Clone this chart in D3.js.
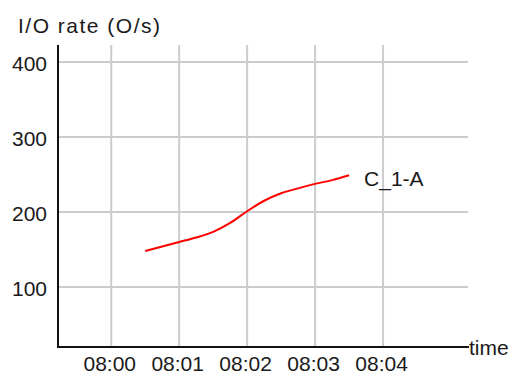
<!DOCTYPE html>
<html>
<head>
<meta charset="utf-8">
<script src="https://cdn.jsdelivr.net/npm/d3@7"></script>
<style>
  html, body { margin: 0; padding: 0; background: #fff; }
  svg { display: block; }
  text { font-family: "Liberation Sans", Arial, sans-serif; fill: #1a1a1a; }
</style>
</head>
<body>
<svg id="chart" width="515" height="375"></svg>
<script>
// ---- data ----
const times = ["08:00:30","08:00:45","08:01:00","08:01:15","08:01:30","08:01:45","08:02:00",
               "08:02:15","08:02:30","08:02:45","08:03:00","08:03:15","08:03:30"];
const ioRate = [148, 154, 160, 166, 173.5, 185.5, 201, 215, 225, 231.5, 237.5, 242.5, 249];
const seriesName = "C_1-A";
const yTicks = [100, 200, 300, 400];
const xTickLabels = ["08:00","08:01","08:02","08:03","08:04"];
const yTitle = "I/O rate  (O/s)";
const xTitle = "time";

// ---- layout ----
const parse = d3.timeParse("%H:%M:%S");
const parseHM = d3.timeParse("%H:%M");
const mLeft = 58, mRight = 468, mTop = 45, mBottom = 347;

const x = d3.scaleTime()
  .domain([parse("07:59:13"), parse("08:05:15")])
  .range([mLeft, mRight]);
const y = d3.scaleLinear()
  .domain([20, 420])
  .range([mBottom, mTop + 2]);

const svg = d3.select("#chart");

// grid
const grid = svg.append("g").attr("stroke", "#cccccc").attr("stroke-width", 2);
grid.selectAll("line.v").data(xTickLabels).enter().append("line")
  .attr("x1", d => x(parseHM(d))).attr("x2", d => x(parseHM(d)))
  .attr("y1", mTop).attr("y2", mBottom);
grid.selectAll("line.h").data(yTicks).enter().append("line")
  .attr("x1", mLeft).attr("x2", mRight)
  .attr("y1", d => y(d)).attr("y2", d => y(d));

// axes
const yAxis = svg.append("g")
  .attr("transform", `translate(${mLeft},0)`)
  .call(d3.axisLeft(y).tickValues(yTicks).tickSize(0).tickPadding(11));
yAxis.select(".domain").remove();
yAxis.selectAll("text")
  .attr("font-size", 21).attr("dy", "0.4em")
  .style("font-family", "'Liberation Sans', Arial, sans-serif").attr("fill", "#1a1a1a");

const xAxis = svg.append("g")
  .attr("transform", `translate(0,${mBottom})`)
  .call(d3.axisBottom(x).tickValues(xTickLabels.map(parseHM))
    .tickFormat(d3.timeFormat("%H:%M")).tickSize(0).tickPadding(9));
xAxis.select(".domain").remove();
xAxis.selectAll("text")
  .attr("font-size", 21).attr("dx", -2).attr("dy", "0.71em")
  .style("font-family", "'Liberation Sans', Arial, sans-serif").attr("fill", "#1a1a1a");

// axis lines
svg.append("line").attr("x1", mLeft).attr("x2", mLeft).attr("y1", mTop).attr("y2", mBottom)
  .attr("stroke", "#111").attr("stroke-width", 2);
svg.append("line").attr("x1", mLeft - 1).attr("x2", mRight + 1).attr("y1", mBottom).attr("y2", mBottom)
  .attr("stroke", "#111").attr("stroke-width", 2);

// series line
const data = times.map((t, i) => ({ t: parse(t), v: ioRate[i] }));
svg.append("path").datum(data)
  .attr("fill", "none").attr("stroke", "#ff0000").attr("stroke-width", 2)
  .attr("d", d3.line().x(d => x(d.t)).y(d => y(d.v)).curve(d3.curveMonotoneX));

// series label
const last = data[data.length - 1];
svg.append("text").attr("x", x(last.t) + 15).attr("y", y(last.v) + 11)
  .attr("font-size", 21).text(seriesName);

// titles
svg.append("text").attr("x", 18).attr("y", 33).attr("font-size", 21)
  .attr("textLength", 142).attr("lengthAdjust", "spacing").text(yTitle);
svg.append("text").attr("x", 469).attr("y", mBottom + 8).attr("font-size", 21).text(xTitle);
</script>
</body>
</html>
